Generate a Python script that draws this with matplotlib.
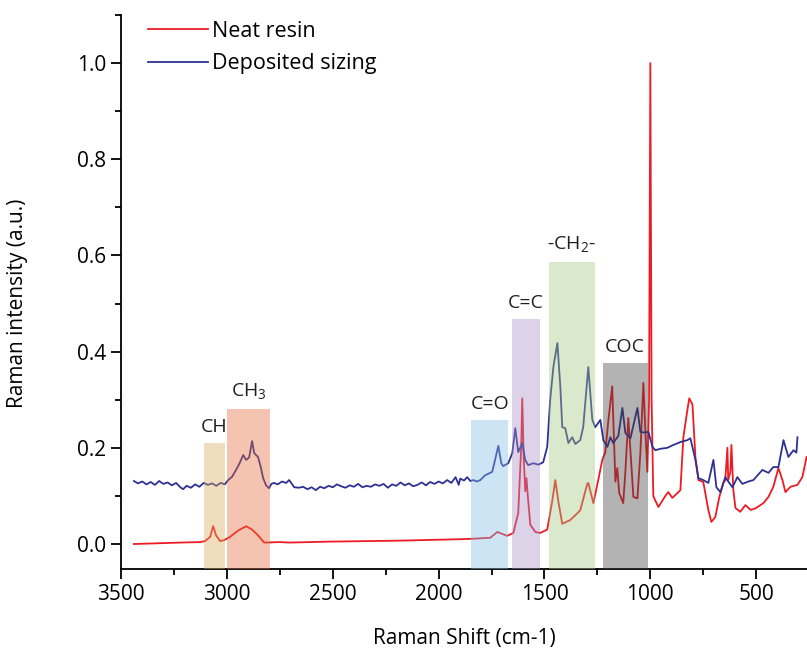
import matplotlib
matplotlib.use("Agg")
import matplotlib.pyplot as plt
from matplotlib.ticker import MultipleLocator, FormatStrFormatter

plt.rcParams.update({"font.family": ["Open Sans", "DejaVu Sans"], "font.size": 15,
                     "axes.linewidth": 1.3})

# --- spectra ---
resin_shift = [3439, 3363, 3221, 3127, 3103, 3079, 3065, 3051, 3032, 3013, 2985, 2947,
               2909, 2881, 2853, 2824, 2749, 2706, 2512, 2181, 1898, 1836, 1756, 1723,
               1676, 1647, 1624, 1610, 1605, 1598, 1591, 1585, 1580, 1567, 1543, 1520,
               1487, 1463, 1449, 1435, 1416, 1378, 1354, 1331, 1298, 1293, 1269, 1246,
               1227, 1213, 1198, 1180, 1175, 1165, 1156, 1147, 1128, 1118, 1104, 1080,
               1061, 1047, 1033, 1024, 1014, 1006, 1000, 994, 986, 976, 962, 929, 915,
               896, 872, 858, 844, 825, 816, 801, 787, 773, 750, 726, 712, 693, 674,
               655, 646, 636, 632, 622, 617, 608, 598, 575, 551, 527, 504, 466, 442,
               419, 395, 376, 362, 338, 305, 282, 262]
resin_int = [0.000, 0.001, 0.003, 0.004, 0.006, 0.015, 0.037, 0.018, 0.006, 0.008, 0.015, 0.028,
             0.037, 0.030, 0.018, 0.003, 0.004, 0.003, 0.005, 0.007, 0.010, 0.011, 0.013, 0.025,
             0.017, 0.023, 0.064, 0.200, 0.303, 0.180, 0.110, 0.137, 0.106, 0.040, 0.025, 0.023,
             0.030, 0.090, 0.133, 0.090, 0.042, 0.050, 0.060, 0.070, 0.125, 0.127, 0.085, 0.133,
             0.175, 0.190, 0.258, 0.328, 0.260, 0.130, 0.158, 0.106, 0.085, 0.150, 0.262, 0.098,
             0.095, 0.190, 0.335, 0.240, 0.150, 0.300, 1.000, 0.300, 0.100, 0.090, 0.077, 0.100, 0.108,
             0.096, 0.106, 0.112, 0.222, 0.279, 0.303, 0.290, 0.180, 0.133, 0.129, 0.071, 0.046, 0.056, 0.098,
             0.127, 0.133, 0.200, 0.133, 0.150, 0.206, 0.112, 0.075, 0.067, 0.081, 0.071, 0.074, 0.085, 0.098,
             0.119, 0.158, 0.133, 0.108, 0.119, 0.123, 0.139, 0.181]

sizing_shift = [3439, 3420, 3400, 3380, 3360, 3340, 3320, 3300, 3280, 3260, 3240, 3220, 3207,
                3190, 3170, 3150, 3130, 3110, 3090, 3070, 3050, 3030, 3010, 2994, 2975, 2957,
                2940, 2923, 2909, 2895, 2881, 2871, 2853, 2840, 2829, 2815, 2801, 2790, 2777,
                2760, 2740, 2720, 2706, 2682, 2660, 2640, 2620, 2600, 2580, 2560, 2540, 2520,
                2500, 2480, 2460, 2440, 2420, 2400, 2380, 2360, 2340, 2320, 2300, 2280, 2260,
                2240, 2220, 2200, 2180, 2160, 2140, 2120, 2100, 2080, 2060, 2040, 2020, 2000,
                1980, 1960, 1940, 1920, 1905, 1898, 1880, 1865, 1850, 1836, 1820, 1803, 1780,
                1747, 1737, 1718, 1704, 1695, 1671, 1652, 1638, 1624, 1605, 1591, 1577, 1553,
                1529, 1506, 1487, 1473, 1458, 1439, 1425, 1416, 1402, 1387, 1369, 1354, 1331,
                1317, 1293, 1274, 1260, 1236, 1222, 1203, 1189, 1175, 1151, 1132, 1118, 1094,
                1061, 1047, 1033, 1009, 990, 976, 953, 920, 891, 858, 825, 811, 787, 773, 750,
                726, 702, 688, 669, 646, 632, 612, 589, 565, 537, 513, 471, 442, 419, 395, 371,
                348, 324, 310, 305]
sizing_int = [0.131, 0.126, 0.130, 0.124, 0.129, 0.123, 0.131, 0.125, 0.128, 0.122, 0.127, 0.118, 0.114,
              0.121, 0.117, 0.124, 0.119, 0.127, 0.123, 0.126, 0.121, 0.127, 0.124, 0.133, 0.140, 0.154,
              0.168, 0.185, 0.175, 0.180, 0.214, 0.189, 0.181, 0.160, 0.137, 0.122, 0.116, 0.125, 0.127,
              0.124, 0.130, 0.127, 0.133, 0.118, 0.117, 0.119, 0.114, 0.118, 0.112, 0.119, 0.116, 0.121,
              0.118, 0.124, 0.120, 0.117, 0.122, 0.119, 0.125, 0.118, 0.121, 0.119, 0.124, 0.121, 0.125,
              0.117, 0.124, 0.121, 0.128, 0.122, 0.126, 0.120, 0.123, 0.128, 0.122, 0.129, 0.125, 0.130,
              0.126, 0.133, 0.127, 0.139, 0.123, 0.136, 0.132, 0.139, 0.131, 0.133, 0.130, 0.133, 0.143,
              0.150, 0.168, 0.204, 0.168, 0.162, 0.168, 0.189, 0.241, 0.191, 0.210, 0.175, 0.164, 0.168,
              0.165, 0.170, 0.202, 0.300, 0.368, 0.418, 0.326, 0.243, 0.241, 0.210, 0.222, 0.208, 0.216,
              0.243, 0.368, 0.258, 0.243, 0.258, 0.216, 0.202, 0.222, 0.210, 0.225, 0.283, 0.231, 0.220,
              0.283, 0.233, 0.232, 0.233, 0.202, 0.195, 0.198, 0.200, 0.206, 0.212, 0.216, 0.220, 0.175, 0.137, 0.133,
              0.127, 0.175, 0.118, 0.108, 0.139, 0.130, 0.118, 0.139, 0.125, 0.130, 0.133, 0.154, 0.148, 0.160, 0.160, 0.216,
              0.181, 0.195, 0.190, 0.222]

# --- assignment bands ---
band_labels = ["CH", "CH$_\\mathregular{3}$", "C=O", "C=C", "-CH$_\\mathregular{2}$-", "COC"]
band_lo = [3010, 2795, 1670, 1523, 1263, 1012]
band_hi = [3110, 3000, 1845, 1655, 1480, 1225]
band_top = [0.210, 0.281, 0.258, 0.468, 0.586, 0.376]
band_colors = ["#D7AA5D", "#E46C3A", "#82BCE6", "#A891C8", "#A3C680", "#414141"]

fig = plt.figure(figsize=(8.07, 6.56), dpi=100)
ax = fig.add_axes([0.15, 0.1326, 0.85, 0.8445])

ax.plot(resin_shift, resin_int, color="#ED1C24", lw=1.3, label="Neat resin")
ax.plot(sizing_shift, sizing_int, color="#2E3192", lw=1.3, label="Deposited sizing")

ylo, yhi = -0.052, 1.10
for lab, lo, hi, top, c in zip(band_labels, band_lo, band_hi, band_top, band_colors):
    ax.bar(lo, top - ylo, width=hi - lo, bottom=ylo, align="edge", color=c, alpha=0.4,
           edgecolor="none", zorder=3)
    ax.text((lo + hi) / 2, top + 0.014, lab, ha="center", va="bottom", color="#231F20",
            fontsize=14)

ax.set_xlim(3500, 260)
ax.set_ylim(ylo, yhi)
ax.xaxis.set_major_locator(MultipleLocator(500))
ax.xaxis.set_minor_locator(MultipleLocator(250))
ax.yaxis.set_major_locator(MultipleLocator(0.2))
ax.yaxis.set_minor_locator(MultipleLocator(0.1))
ax.yaxis.set_major_formatter(FormatStrFormatter("%.1f"))
ax.tick_params(which="major", direction="out", length=7, width=1.3, labelsize=15)
ax.tick_params(which="minor", direction="out", length=4, width=1.3)
ax.spines[["top", "right"]].set_visible(False)

ax.set_xlabel("Raman Shift (cm-1)", labelpad=17)
ax.set_ylabel("Raman intensity (a.u.)")
ax.yaxis.set_label_coords(-0.135, 0.48)

ax.legend(loc="upper left", bbox_to_anchor=(0.039, 0.99), frameon=False, borderpad=0,
          borderaxespad=0, handlelength=2.8, handletextpad=0.2, labelspacing=0.55,
          fontsize=15.5)

plt.savefig("out.png", dpi=100)
